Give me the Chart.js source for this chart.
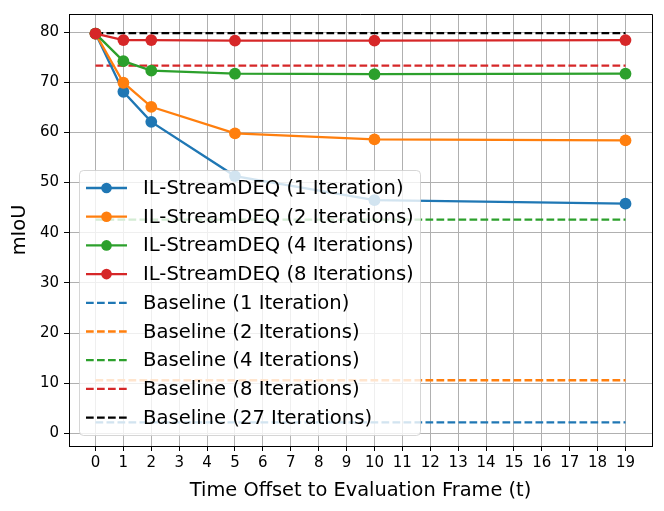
<!DOCTYPE html>
<html>
<head>
<meta charset="utf-8">
<script src="https://cdn.jsdelivr.net/npm/chart.js@4/dist/chart.umd.min.js"></script>
<style>
  html, body { margin: 0; padding: 0; background: #fff; }
  #chart { display: block; }
</style>
</head>
<body>
<canvas id="chart" width="664" height="511"></canvas>
<script>
// time offsets where the IL-StreamDEQ runs were evaluated
const frames = [0, 1, 2, 5, 10, 19];
const xTicks = [0, 1, 2, 3, 4, 5, 6, 7, 8, 9, 10, 11, 12, 13, 14, 15, 16, 17, 18, 19];
const yTicks = [0, 10, 20, 30, 40, 50, 60, 70, 80];

const il1 = [79.7, 68.1, 62.1, 51.3, 46.5, 45.8];
const il2 = [79.7, 69.9, 65.1, 59.8, 58.6, 58.4];
const il4 = [79.7, 74.2, 72.3, 71.7, 71.6, 71.7];
const il8 = [79.7, 78.4, 78.4, 78.3, 78.3, 78.4];

const baselineLabels = ["1 Iteration", "2 Iterations", "4 Iterations", "8 Iterations", "27 Iterations"];
const baselineValues = [2.2, 10.6, 42.6, 73.3, 79.8];
const baselineSpan = [0, 19];

const ilLabels = ["1 Iteration", "2 Iterations", "4 Iterations", "8 Iterations"];
const ilSeries = [il1, il2, il4, il8];

const blue = "#1f77b4", orange = "#ff7f0e", green = "#2ca02c", red = "#d62728", black = "#000000";
const ilColors = [blue, orange, green, red];
const baseColors = [blue, orange, green, red, black];

const FONT = "'DejaVu Sans', sans-serif";
const dash = [7.7, 3.3];
const LW = 2.3;

const datasets = [];
ilSeries.forEach((vals, i) => {
  datasets.push({
    label: "IL-StreamDEQ (" + ilLabels[i] + ")",
    data: frames.map((f, j) => ({ x: f, y: vals[j] })),
    borderColor: ilColors[i],
    backgroundColor: ilColors[i],
    borderWidth: LW,
    pointRadius: 5.9,
    pointBorderWidth: 0,
    pointBackgroundColor: ilColors[i],
    tension: 0,
    order: 4 - i, // later series drawn on top, like matplotlib
  });
});
baselineValues.forEach((v, i) => {
  datasets.push({
    label: "Baseline (" + baselineLabels[i] + ")",
    data: baselineSpan.map((x) => ({ x: x, y: v })),
    borderColor: baseColors[i],
    borderWidth: LW,
    borderDash: dash,
    pointRadius: 0,
    order: 10 - i,
  });
});

// top and right spines
const frameBox = {
  id: "frameBox",
  afterDatasetsDraw(chart) {
    const { ctx, chartArea: a } = chart;
    ctx.save();
    ctx.strokeStyle = "#000";
    ctx.lineWidth = 1;
    ctx.beginPath();
    ctx.moveTo(a.left, a.top + 0.5);
    ctx.lineTo(a.right + 0.5, a.top + 0.5);
    ctx.lineTo(a.right + 0.5, a.bottom);
    ctx.stroke();
    ctx.restore();
  },
};

// matplotlib style legend sitting inside the plot
const boxLegend = {
  id: "boxLegend",
  afterDatasetsDraw(chart) {
    const ctx = chart.ctx;
    const left = 79, top = 170, width = 341, height = 265;
    const rowStart = 188, rowStep = 28.7;
    ctx.save();
    ctx.beginPath();
    ctx.roundRect(left + 0.5, top + 0.5, width, height, 4);
    ctx.fillStyle = "rgba(255,255,255,0.8)";
    ctx.fill();
    ctx.strokeStyle = "rgba(204,204,204,0.8)";
    ctx.lineWidth = 1;
    ctx.stroke();

    ctx.font = "19.6px " + FONT;
    ctx.textBaseline = "middle";
    ctx.fillStyle = "#000";
    chart.data.datasets.forEach((ds, i) => {
      const y = rowStart + i * rowStep;
      ctx.strokeStyle = ds.borderColor;
      ctx.lineWidth = LW;
      ctx.setLineDash(ds.borderDash || []);
      ctx.beginPath();
      ctx.moveTo(86, y);
      ctx.lineTo(127, y);
      ctx.stroke();
      ctx.setLineDash([]);
      if (ds.pointRadius > 0) {
        ctx.fillStyle = ds.borderColor;
        ctx.beginPath();
        ctx.arc(106.5, y, 5.3, 0, Math.PI * 2);
        ctx.fill();
      }
      ctx.fillStyle = "#000";
      ctx.fillText(ds.label, 143, y + 1);
    });
    ctx.restore();
  },
};

new Chart(document.getElementById("chart"), {
  type: "line",
  data: { datasets: datasets },
  options: {
    responsive: false,
    animation: false,
    devicePixelRatio: 1,
    layout: { padding: { top: 12, right: 12, left: 0, bottom: 0 } },
    plugins: { legend: { display: false }, tooltip: { enabled: false } },
    scales: {
      x: {
        type: "linear",
        min: -0.95,
        max: 19.95,
        afterBuildTicks: (scale) => {
          scale.ticks = xTicks.map((v) => ({ value: v }));
        },
        afterFit: (scale) => {
          scale.height = 65;
        },
        ticks: {
          autoSkip: false,
          maxRotation: 0,
          padding: 3,
          color: "#000",
          font: { family: FONT, size: 15 },
          callback: (v) => v,
        },
        grid: { color: "#b0b0b0", lineWidth: 1, tickColor: "#000", tickLength: 5 },
        border: { color: "#000", width: 1 },
        title: {
          display: true,
          text: "Time Offset to Evaluation Frame (t)",
          color: "#000",
          font: { family: FONT, size: 19.4 },
          padding: { top: 0, bottom: 8 },
        },
      },
      y: {
        min: -2.5,
        max: 83.6,
        afterBuildTicks: (scale) => {
          scale.ticks = yTicks.map((v) => ({ value: v }));
        },
        afterFit: (scale) => {
          scale.width = 69;
        },
        ticks: {
          padding: 5,
          color: "#000",
          font: { family: FONT, size: 15 },
          callback: (v) => v,
        },
        grid: { color: "#b0b0b0", lineWidth: 1, tickColor: "#000", tickLength: 5 },
        border: { color: "#000", width: 1 },
        title: {
          display: true,
          text: "mIoU",
          color: "#000",
          font: { family: FONT, size: 19.4 },
          padding: { top: 8, bottom: 0 },
        },
      },
    },
  },
  plugins: [frameBox, boxLegend],
});
</script>
</body>
</html>
